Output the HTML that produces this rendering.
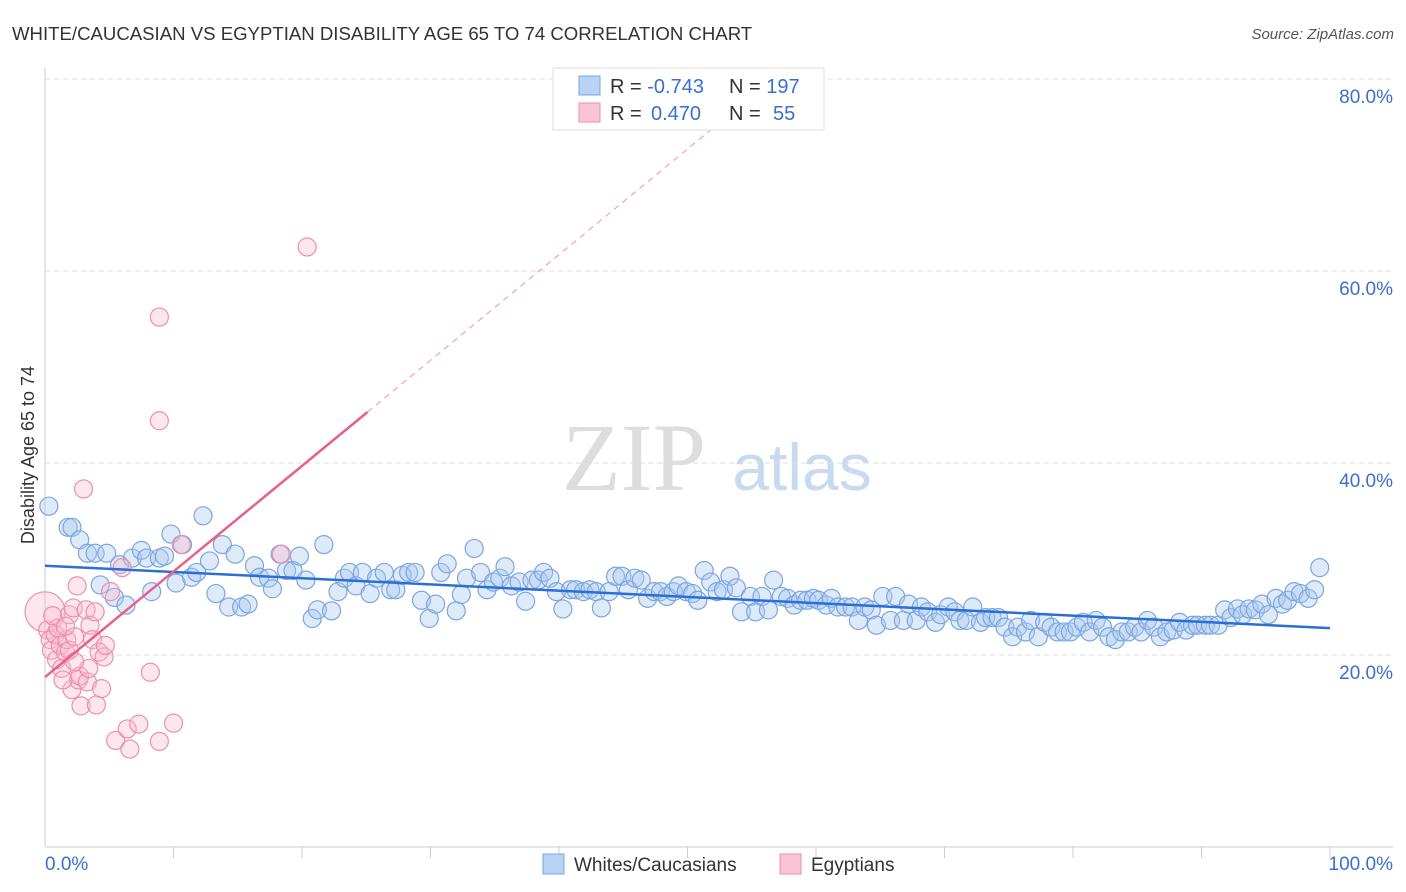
<!DOCTYPE html>
<html><head><meta charset="utf-8"><style>
body{margin:0;background:#fff;font-family:"Liberation Sans",sans-serif;}
svg{display:block}
</style></head><body>
<svg id="chart" width="1406" height="892">
<text x="12" y="40" font-size="18.6" fill="#333">WHITE/CAUCASIAN VS EGYPTIAN DISABILITY AGE 65 TO 74 CORRELATION CHART</text>
<text x="1394" y="39" font-size="15" fill="#555" font-style="italic" text-anchor="end">Source: ZipAtlas.com</text>
<text x="634" y="490" font-size="96" fill="#ddd" font-family="Liberation Serif,serif" text-anchor="middle">ZIP</text>
<text x="802" y="490" font-size="66" fill="#c8daf0" text-anchor="middle">atlas</text>
<g id="grid"></g>
<g id="marks"></g>
<text transform="translate(34,455) rotate(-90)" font-size="18" fill="#333" text-anchor="middle">Disability Age 65 to 74</text>
<g>
<rect x="553" y="68" width="271" height="62" fill="#fff" stroke="#ddd"/>
<rect x="579" y="76" width="21" height="19" fill="#b9d3f5" stroke="#7aa6e0"/>
<rect x="579" y="103" width="21" height="19" fill="#f9c4d4" stroke="#ec8fab"/>
<text x="610" y="93" font-size="20" fill="#333">R = <tspan fill="#3a6fd0">-0.743</tspan></text>
<text x="729" y="93" font-size="20" fill="#333">N = <tspan fill="#3a6fd0">197</tspan></text>
<text x="610" y="120" font-size="20" fill="#333">R = <tspan fill="#3a6fd0" x="651">0.470</tspan></text>
<text x="729" y="120" font-size="20" fill="#333">N = <tspan fill="#3a6fd0" x="773">55</tspan></text>
</g>
<g>
<rect x="543" y="854" width="21" height="20" fill="#b9d3f5" stroke="#7aa6e0"/>
<text x="574" y="871" font-size="19" fill="#333">Whites/Caucasians</text>
<rect x="780" y="854" width="21" height="20" fill="#f9c4d4" stroke="#ec8fab"/>
<text x="811" y="871" font-size="19" fill="#333">Egyptians</text>
</g>
</svg>
<script>
const yTicks=[20,40,60,80];
const xTickLabels=["0.0%","100.0%"];
const whiteX=[0.3,1.8,2.1,2.7,3.3,3.9,4.3,4.8,5.4,5.8,6.3,6.8,7.5,7.9,8.3,8.9,9.3,9.8,10.2,10.7,11.4,11.8,12.3,12.8,13.3,13.8,14.3,14.8,15.3,15.8,16.3,16.7,17.4,17.7,18.3,18.8,19.3,19.8,20.3,20.8,21.2,21.7,22.3,22.8,23.3,23.7,24.2,24.7,25.3,25.8,26.4,26.9,27.3,27.8,28.3,28.8,29.3,29.9,30.4,30.8,31.3,32.0,32.4,32.8,33.4,33.9,34.4,34.9,35.4,35.8,36.3,36.9,37.4,37.9,38.4,38.8,39.3,39.8,40.3,40.9,41.3,41.9,42.4,42.9,43.3,43.9,44.4,44.9,45.4,45.9,46.4,46.9,47.4,47.9,48.4,48.9,49.3,49.9,50.4,50.8,51.3,51.8,52.3,52.8,53.3,53.8,54.2,54.9,55.3,55.8,56.3,56.7,57.3,57.8,58.3,58.8,59.3,59.8,60.2,60.8,61.2,61.7,62.3,62.8,63.3,63.8,64.3,64.7,65.2,65.8,66.2,66.8,67.2,67.8,68.2,68.7,69.3,69.7,70.3,70.8,71.2,71.7,72.2,72.8,73.2,73.7,74.2,74.7,75.3,75.7,76.3,76.7,77.3,77.8,78.3,78.8,79.3,79.8,80.3,80.8,81.3,81.8,82.3,82.8,83.3,83.8,84.3,84.8,85.3,85.8,86.3,86.8,87.3,87.8,88.3,88.8,89.3,89.7,90.3,90.7,91.3,91.8,92.3,92.8,93.2,93.7,94.2,94.7,95.2,95.8,96.3,96.7,97.2,97.7,98.3,98.8,99.2];
const whiteY=[35.5,33.3,33.3,32.0,30.6,30.6,27.3,30.6,26.0,29.4,25.2,30.1,30.9,30.1,26.6,30.1,30.3,32.6,27.5,31.5,28.1,28.6,34.5,29.8,26.4,31.5,25.0,30.5,25.0,25.3,29.3,28.1,28.0,26.9,30.5,28.8,28.8,30.3,27.8,23.8,24.7,31.5,24.6,26.6,28.0,28.6,27.2,28.6,26.4,28.0,28.6,26.8,26.8,28.3,28.6,28.6,25.7,23.8,25.3,28.6,29.5,24.6,26.3,28.0,31.1,28.6,26.8,27.6,28.0,29.2,27.2,27.6,25.6,27.8,27.8,28.6,28.0,26.6,24.8,26.8,26.8,26.6,26.8,26.6,24.9,26.6,28.2,28.2,26.8,28.0,27.8,25.9,26.6,26.6,26.1,26.6,27.2,26.6,26.4,25.7,28.8,27.6,26.6,26.8,28.2,27.0,24.5,26.1,24.5,26.1,24.7,27.8,26.1,25.9,25.2,25.7,25.7,25.9,25.7,25.2,25.9,25.0,25.0,25.0,23.6,25.0,24.7,23.1,26.1,23.6,26.1,23.6,25.3,23.6,25.0,24.5,23.4,24.2,25.0,24.5,23.6,23.6,25.0,23.4,23.9,23.9,23.9,22.9,21.9,22.9,22.4,23.6,21.9,23.4,22.9,22.4,22.4,22.4,22.9,23.4,22.4,23.6,22.9,21.9,21.6,22.4,22.4,22.9,22.4,23.6,22.9,21.9,22.4,22.6,23.4,22.6,23.1,23.1,23.1,23.1,23.1,24.7,23.9,24.8,24.2,24.8,24.7,25.3,24.2,25.9,25.3,25.7,26.6,26.4,25.9,26.8,29.1];
const egyX=[0,0.2,0.4,0.5,0.8,0.9,1.2,1.3,1.6,1.7,1.9,1.9,2.1,2.2,2.3,2.5,2.6,2.7,2.8,3.0,3.2,3.3,3.4,3.5,3.7,3.9,4.0,4.2,4.4,4.6,4.7,5.1,5.5,6.0,6.4,6.6,7.3,8.2,8.9,8.9,8.9,10.0,10.6,18.4,20.4,1.0,1.4,0.6,1.6,2.3];
const egyY=[24.5,22.6,21.6,20.5,22.1,19.5,21.0,18.6,20.3,21.6,24.2,20.5,16.4,24.9,21.9,27.2,17.4,17.8,14.7,37.3,24.7,17.2,18.6,23.1,21.6,24.5,14.8,20.3,16.5,19.8,21.0,26.6,11.1,29.1,12.3,10.2,12.8,18.2,55.2,11.0,44.4,12.9,31.5,30.5,62.5,22.8,17.4,24.1,23.0,19.3];
const whiteFit=[29.3,22.8];
const egyFit=[17.7,1.1];
const egySolidEnd=25.1;

const NS="http://www.w3.org/2000/svg";
const X=v=>45+v*12.85;
const Y=v=>847-v*9.6;
function mk(tag,attrs,parent){const e=document.createElementNS(NS,tag);for(const k in attrs)e.setAttribute(k,attrs[k]);parent.appendChild(e);return e;}
const grid=document.getElementById('grid'),marks=document.getElementById('marks');
mk('line',{x1:45,y1:68,x2:45,y2:847,stroke:'#ccc'},grid);
mk('line',{x1:45,y1:847,x2:1393,y2:847,stroke:'#ccc'},grid);
for(let k=1;k<=10;k++){mk('line',{x1:X(k*10),y1:847,x2:X(k*10),y2:858,stroke:'#ccc'},grid);}
yTicks.forEach(t=>{
 const g=mk('line',{x1:45,y1:Y(t),x2:1393,y2:Y(t),stroke:'#ddd','stroke-dasharray':'5,4'},grid);
 
 
 const tx=mk('text',{x:1393,y:Y(t)+24,'font-size':19,fill:'#3a6fd0','text-anchor':'end'},grid);
 tx.textContent=t.toFixed(1)+'%';
 
 
});
[[0,'start',45],[1,'end',1393]].forEach(([i,a,x])=>{
 const t=mk('text',{x:x,y:870,'font-size':19,fill:'#3a6fd0','text-anchor':a},grid);
 t.textContent=xTickLabels[i];
 
 
});
whiteX.forEach((x,i)=>{
 const c=mk('circle',{cx:X(x),cy:Y(whiteY[i]),r:9,fill:'rgba(170,200,240,0.38)',stroke:'#7aa6e0','stroke-width':1.2},marks);
 
 
});
egyX.forEach((x,i)=>{
 const c=mk('circle',{cx:X(x),cy:Y(egyY[i]),r:i===0?20:9,fill:'rgba(248,185,205,0.35)',stroke:'#ec8fab','stroke-width':1.2},marks);
 
 
});
const wl=mk('line',{x1:X(0),y1:Y(whiteFit[0]),x2:X(100),y2:Y(whiteFit[1]),stroke:'#2a6fd6','stroke-width':2.5},marks);


const pe=(80-egyFit[0])/egyFit[1];
const pd=mk('line',{x1:X(egySolidEnd),y1:Y(egyFit[0]+egyFit[1]*egySolidEnd),x2:X(pe),y2:Y(80),stroke:'#f2a0b8','stroke-width':1.2,'stroke-dasharray':'6,5'},marks);


const pl=mk('line',{x1:X(0),y1:Y(egyFit[0]),x2:X(egySolidEnd),y2:Y(egyFit[0]+egyFit[1]*egySolidEnd),stroke:'#e8608a','stroke-width':2.5},marks);


</script>
</body></html>
